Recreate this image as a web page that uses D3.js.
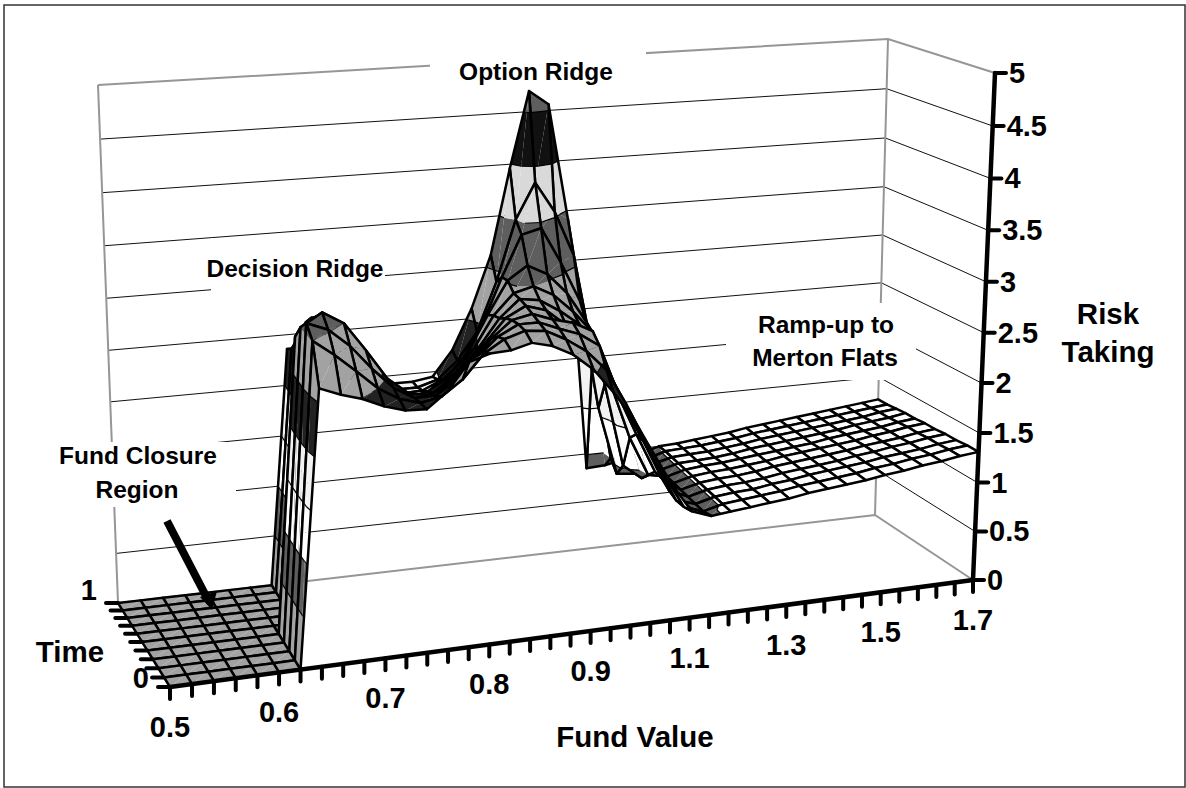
<!DOCTYPE html>
<html>
<head>
<meta charset="utf-8">
<script src="https://cdnjs.cloudflare.com/ajax/libs/d3/7.8.5/d3.min.js"></script>
<style>
    html, body { margin: 0; padding: 0; background: #fff; }
    text { font-family: "Liberation Sans", Arial, sans-serif; font-weight: bold; fill: #000; }
</style>
</head>
<body>
<div id="chart"></div>
<script>
// categories on the two floor axes
const fundValues = [0.50, 0.52, 0.54, 0.56, 0.58, 0.60, 0.62, 0.64, 0.66, 0.68, 0.70, 0.72, 0.74, 0.76, 0.78, 0.80, 0.82, 0.84, 0.86, 0.88, 0.90,
    0.94, 0.98, 1.02, 1.06, 1.10, 1.14, 1.18, 1.22, 1.26, 1.30, 1.34, 1.38, 1.42, 1.46, 1.50, 1.54, 1.58, 1.62, 1.66, 1.70];
const timeValues = [0, 0.1, 0.2, 0.3, 0.4, 0.5, 0.6, 0.7, 0.8, 0.9, 1];

// risk taking, one array per time row (front to back)
const riskT00 = [0, 0, 0, 0, 0, 0, 0, 2.63, 2.55, 2.49, 2.40, 2.34, 2.33, 2.48, 2.73, 2.79, 2.80, 2.85, 2.80, 2.70, 2.54, 2.30, 2.03, 1.68, 1.34, 1.06, 0.99, 1.01, 1.03, 1.05, 1.07, 1.10, 1.12, 1.14, 1.16, 1.19, 1.21, 1.24, 1.26, 1.29, 1.31];
const riskT01 = [0, 0, 0, 0, 0, 0, 0, 3.00, 2.85, 2.68, 2.50, 2.38, 2.32, 2.36, 2.50, 2.72, 2.84, 2.90, 2.88, 2.78, 2.65, 2.45, 2.10, 1.72, 1.36, 1.03, 0.96, 1.01, 1.03, 1.05, 1.07, 1.10, 1.12, 1.14, 1.16, 1.19, 1.21, 1.24, 1.26, 1.29, 1.31];
const riskT02 = [0, 0, 0, 0, 0, 0, 0, 3.10, 3.02, 2.85, 2.62, 2.42, 2.30, 2.30, 2.42, 2.62, 2.80, 2.90, 2.90, 2.82, 2.75, 2.62, 2.12, 1.75, 1.38, 1.02, 0.96, 1.01, 1.03, 1.04, 1.07, 1.09, 1.12, 1.14, 1.16, 1.18, 1.21, 1.23, 1.25, 1.28, 1.30];
const riskT03 = [0, 0, 0, 0, 0, 0, 0, 3.00, 3.12, 3.00, 2.73, 2.44, 2.28, 2.24, 2.32, 2.50, 2.72, 2.88, 2.92, 2.85, 2.80, 2.70, 2.20, 1.80, 1.45, 1.05, 0.96, 1.01, 1.03, 1.04, 1.06, 1.09, 1.11, 1.13, 1.15, 1.18, 1.20, 1.23, 1.25, 1.28, 1.30];
const riskT04 = [0, 0, 0, 0, 0, 0, 0, 2.85, 3.02, 2.92, 2.65, 2.38, 2.20, 2.14, 2.22, 2.40, 2.62, 2.84, 2.94, 2.88, 2.72, 2.55, 2.30, 1.88, 1.50, 1.10, 0.96, 1.01, 1.03, 1.04, 1.06, 1.09, 1.11, 1.13, 1.15, 1.17, 1.20, 1.22, 1.24, 1.27, 1.29];
const riskT05 = [0, 0, 0, 0, 0, 0, 0, 0, 2.95, 2.80, 2.50, 2.28, 2.12, 2.06, 2.12, 2.30, 2.52, 2.78, 2.95, 2.92, 2.80, 2.65, 2.42, 1.92, 1.50, 1.10, 0.96, 1.01, 1.03, 1.04, 1.06, 1.08, 1.11, 1.13, 1.15, 1.17, 1.19, 1.22, 1.24, 1.27, 1.29];
const riskT06 = [0, 0, 0, 0, 0, 0, 0, 0, 2.85, 2.70, 2.42, 2.18, 2.05, 2.00, 2.05, 2.20, 2.44, 2.75, 2.95, 3.00, 2.90, 2.72, 2.50, 1.95, 1.40, 1.00, 0.96, 1.01, 1.03, 1.04, 1.06, 1.08, 1.10, 1.12, 1.14, 1.17, 1.19, 1.21, 1.23, 1.26, 1.28];
const riskT07 = [0, 0, 0, 0, 0, 0, 0, 0, 2.70, 2.58, 2.32, 2.10, 2.00, 1.96, 2.00, 2.12, 2.35, 2.70, 3.02, 3.15, 3.05, 2.85, 2.55, 1.90, 1.05, 0.90, 0.96, 1.01, 1.02, 1.03, 1.05, 1.08, 1.10, 1.12, 1.14, 1.16, 1.18, 1.21, 1.23, 1.25, 1.28];
const riskT08 = [0, 0, 0, 0, 0, 0, 0, 0, 2.55, 2.45, 2.24, 2.06, 1.97, 1.94, 1.95, 2.04, 2.22, 2.55, 3.00, 3.40, 3.45, 3.10, 2.70, 1.60, 0.90, 0.88, 0.96, 1.01, 1.02, 1.03, 1.05, 1.07, 1.10, 1.12, 1.14, 1.16, 1.18, 1.20, 1.22, 1.25, 1.27];
const riskT09 = [0, 0, 0, 0, 0, 0, 0, 0, 2.42, 2.38, 2.20, 2.05, 1.95, 1.92, 1.92, 1.98, 2.15, 2.42, 2.90, 3.50, 3.85, 3.55, 3.10, 2.10, 1.00, 0.88, 0.95, 1.01, 1.02, 1.03, 1.05, 1.07, 1.10, 1.12, 1.14, 1.16, 1.18, 1.20, 1.22, 1.24, 1.26];
const riskT10 = [0, 0, 0, 0, 0, 0, 0, 0, 2.36, 2.32, 2.20, 2.05, 1.93, 1.92, 1.92, 1.95, 2.20, 2.60, 3.12, 3.96, 4.70, 4.56, 3.42, 0.85, 0.86, 0.90, 0.95, 1.00, 1.01, 1.03, 1.05, 1.07, 1.10, 1.12, 1.14, 1.16, 1.18, 1.20, 1.22, 1.24, 1.26];
const riskRows = [riskT00, riskT01, riskT02, riskT03, riskT04, riskT05, riskT06, riskT07, riskT08, riskT09, riskT10];

// tick labels
const riskTicks = [0, 0.5, 1, 1.5, 2, 2.5, 3, 3.5, 4, 4.5, 5];
const fundTickValues = [0.5, 0.6, 0.7, 0.8, 0.9, 1.1, 1.3, 1.5, 1.7];
const timeTickValues = [0, 1];

// surface shades, one per 0.5 of risk taking
const bandColours = ["#a2a2a2", "#5e5e5e", "#ffffff", "#f2f2f2", "#222222", "#a2a2a2", "#5e5e5e", "#d9d9d9", "#111111", "#5e5e5e"];

const width = 1186, height = 788;

// the chart box as it sits on the page: front left, front right, back right, back left
const floorBox = [[170, 687], [973, 580], [875, 515], [118, 603]];
const roofBox = [[158, 137], [995, 73], [888, 39], [98, 85]];
const squeezeFront = 1.1, squeezeBack = 1.2, squeezeDepth = 1.15;

const fundScale = d3.scalePoint().domain(fundValues).range([0, 1]);
const timeScale = d3.scaleLinear().domain([0, 1]).range([0, 1]);
const riskScale = d3.scaleLinear().domain([0, 5]).range([0, 1]);

const squeeze = (u, c) => u * c / (1 + (c - 1) * u);
const mix = (p, q, k) => [p[0] + (q[0] - p[0]) * k, p[1] + (q[1] - p[1]) * k];

function boxAt(box, u, v) {
    let front = mix(box[0], box[1], squeeze(u, squeezeFront));
    let back = mix(box[3], box[2], squeeze(u, squeezeBack));
    return mix(front, back, squeeze(v, squeezeDepth));
}

// u and v are 0..1 on the floor, z is risk taking
function project(u, v, z) {
    let r = riskScale(z);
    let s = r / (r + (1 - r) * 1.05);   // heights foreshorten a little going up
    return mix(boxAt(floorBox, u, v), boxAt(roofBox, u, v), s);
}

const line = d3.line();
const svg = d3.select("#chart").append("svg")
    .attr("width", width)
    .attr("height", height)
    .style("display", "block");

svg.append("rect")
    .attr("x", 4).attr("y", 5)
    .attr("width", 1181).attr("height", 782)
    .attr("fill", "#fff").attr("stroke", "#333").attr("stroke-width", 1.5);

// walls
let walls = svg.append("g").attr("fill", "none");
let wallLine = z => line([project(0, 1, z), project(1, 1, z), project(1, 0, z)]);

walls.selectAll(".grid")
    .data(riskTicks.filter(z => z > 0 && z < 5))
    .join("path")
    .attr("class", "grid")
    .attr("d", wallLine)
    .attr("stroke", "#111")
    .attr("stroke-width", 1);

walls.selectAll(".edge")
    .data([0, 5])
    .join("path")
    .attr("class", "edge")
    .attr("d", wallLine)
    .attr("stroke", "#969696")
    .attr("stroke-width", 2);

walls.selectAll(".post")
    .data([0, 1])
    .join("path")
    .attr("class", "post")
    .attr("d", u => line([project(u, 1, 0), project(u, 1, 5)]))
    .attr("stroke", "#969696")
    .attr("stroke-width", 2);

// white boxes the annotations sit on, they cut the wall lines
const noteBoxes = [[430, 52, 216, 40], [211, 238, 174, 58], [40, 442, 196, 65], [726, 303, 190, 77]];
svg.append("g").selectAll("rect")
    .data(noteBoxes)
    .join("rect")
    .attr("x", d => d[0]).attr("y", d => d[1])
    .attr("width", d => d[2]).attr("height", d => d[3])
    .attr("fill", "#fff");

// clip one triangle of a cell to a height range
function clipBand(tri, lo, hi) {
    let clip = (pts, limit, keepAbove) => {
	let out = [];
	pts.forEach((p, i) => {
	    let q = pts[(i + 1) % pts.length];
	    let pIn = keepAbove ? p[2] >= limit : p[2] <= limit;
	    let qIn = keepAbove ? q[2] >= limit : q[2] <= limit;
	    if (pIn) out.push(p);
	    if (pIn !== qIn) {
		let k = (limit - p[2]) / (q[2] - p[2]);
		out.push([p[0] + (q[0] - p[0]) * k, p[1] + (q[1] - p[1]) * k, limit]);
	    }
	});
	return out;
    };
    return clip(clip(tri, lo, true), hi, false);
}

function cellShapes(i, r) {
    let corner = (ci, cr) => [fundScale(fundValues[ci]), timeScale(timeValues[cr]), riskRows[cr][ci]];
    let a = corner(i, r), b = corner(i + 1, r), c = corner(i + 1, r + 1), d = corner(i, r + 1);
    let tris = [[a, b, c], [a, c, d]];
    let fills = [], contours = [];
    tris.forEach(tri => {
	bandColours.forEach((colour, k) => {
	    let poly = clipBand(tri, k * 0.5, (k + 1) * 0.5);
	    if (poly.length > 2) {
		fills.push({colour, path: line(poly.map(p => project(...p))) + "Z"});
		let onEdge = poly.filter(p => p[2] === (k + 1) * 0.5);
		if (onEdge.length === 2) contours.push(line(onEdge.map(p => project(...p))));
	    }
	});
    });
    return {
	fills,
	contours,
	outline: line([a, b, c, d].map(p => project(...p))) + "Z"
    };
}

// paint back rows first, and the far (right) cells first inside a row
let cells = [];
d3.range(timeValues.length - 2, -1, -1).forEach(r => {
    d3.range(fundValues.length - 2, -1, -1).forEach(i => cells.push(cellShapes(i, r)));
});

let cellGroups = svg.append("g").selectAll("g")
    .data(cells)
    .join("g");

cellGroups.selectAll(".fill")
    .data(d => d.fills)
    .join("path")
    .attr("class", "fill")
    .attr("d", d => d.path)
    .attr("fill", d => d.colour);

cellGroups.selectAll(".contour")
    .data(d => d.contours)
    .join("path")
    .attr("class", "contour")
    .attr("d", d => d)
    .attr("fill", "none")
    .attr("stroke", "#000")
    .attr("stroke-width", 1.2);

cellGroups.append("path")
    .attr("d", d => d.outline)
    .attr("fill", "none")
    .attr("stroke", "#000")
    .attr("stroke-width", 2.5)
    .attr("stroke-linejoin", "round");

// axes
let axes = svg.append("g");
const axisPaint = (sel, w) => sel.attr("stroke", "#000").attr("stroke-width", w).attr("stroke-linecap", "round").attr("fill", "none");

axes.append("path").attr("d", line([project(0, 0, 0), project(1, 0, 0)])).call(axisPaint, 4.5);
axes.append("path").attr("d", line([project(1, 0, 0), project(1, 0, 5)])).call(axisPaint, 4.5);

axes.selectAll(".fund-tick")
    .data(fundValues)
    .join("path")
    .attr("class", "fund-tick")
    .attr("d", d => {
	let p = project(fundScale(d), 0, 0);
	return line([p, [p[0], p[1] + 12]]);
    })
    .call(axisPaint, 4);

axes.selectAll(".time-tick")
    .data(timeValues)
    .join("path")
    .attr("class", "time-tick")
    .attr("d", d => {
	let p = project(0, timeScale(d), 0);
	return line([p, [p[0] - 12, p[1]]]);
    })
    .call(axisPaint, 4);

axes.selectAll(".risk-tick")
    .data(riskTicks)
    .join("path")
    .attr("class", "risk-tick")
    .attr("d", d => {
	let p = project(1, 0, d);
	return line([p, [p[0] + 11, p[1]]]);
    })
    .call(axisPaint, 4);

const labelSize = 29;
const fundPoint = d => project(fundScale(fundValues.find(v => Math.abs(v - d) < 1e-6)), 0, 0);

axes.selectAll(".risk-label")
    .data(riskTicks)
    .join("text")
    .attr("class", "risk-label")
    .attr("x", d => project(1, 0, d)[0] + 14)
    .attr("y", d => project(1, 0, d)[1] + 10)
    .attr("font-size", labelSize)
    .text(d => d);

axes.selectAll(".fund-label")
    .data(fundTickValues)
    .join("text")
    .attr("class", "fund-label")
    .attr("x", d => fundPoint(d)[0])
    .attr("y", d => fundPoint(d)[1] + 50)
    .attr("text-anchor", "middle")
    .attr("font-size", labelSize)
    .text(d => d);

axes.selectAll(".time-label")
    .data(timeTickValues)
    .join("text")
    .attr("class", "time-label")
    .attr("x", d => project(0, timeScale(d), 0)[0] - 21)
    .attr("y", d => project(0, timeScale(d), 0)[1] + (d === 0 ? 1 : -3))
    .attr("font-size", labelSize)
    .attr("text-anchor", "end")
    .text(d => d);

// titles and notes
const titles = [
    {text: "Time", x: 70, y: 662, size: 29.5},
    {text: "Fund Value", x: 635, y: 747, size: 29.5},
    {text: "Risk", x: 1108, y: 324, size: 29.5},
    {text: "Taking", x: 1108, y: 362, size: 29.5},
    {text: "Option Ridge", x: 536, y: 80, size: 24.5},
    {text: "Decision Ridge", x: 295, y: 277, size: 24.5},
    {text: "Fund Closure", x: 138, y: 464, size: 24.5},
    {text: "Region", x: 137, y: 498, size: 24.5},
    {text: "Ramp-up to", x: 826, y: 333, size: 24.5},
    {text: "Merton Flats", x: 825, y: 366, size: 24.5}
];

svg.append("g").selectAll("text")
    .data(titles)
    .join("text")
    .attr("x", d => d.x).attr("y", d => d.y)
    .attr("text-anchor", "middle")
    .attr("font-size", d => d.size)
    .text(d => d.text);

// arrow to the closure region
let arrow = svg.append("g");
arrow.append("path")
    .attr("d", line([[167, 521], [207, 598]]))
    .attr("stroke", "#000").attr("stroke-width", 8).attr("fill", "none");
arrow.append("path")
    .attr("d", line([[212, 610], [200, 597], [217, 591]]) + "Z")
    .attr("fill", "#000");
</script>
</body>
</html>
